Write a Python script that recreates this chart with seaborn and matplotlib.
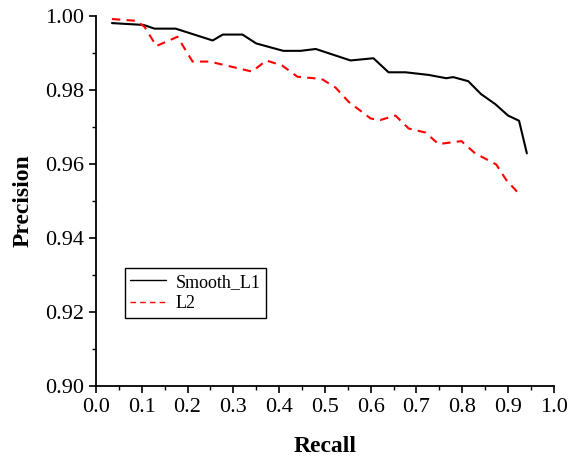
import matplotlib

matplotlib.use("Agg")

import matplotlib.pyplot as plt
import pandas as pd
import seaborn as sns
from matplotlib.ticker import MultipleLocator

smooth_recall = [0.035, 0.104, 0.128, 0.174, 0.255, 0.277, 0.320, 0.350, 0.409, 0.447,
                 0.480, 0.507, 0.556, 0.606, 0.639, 0.676, 0.726, 0.765, 0.780, 0.813,
                 0.841, 0.872, 0.900, 0.924, 0.935, 0.941]
smooth_prec = [0.9981, 0.9976, 0.9966, 0.9966, 0.9934, 0.9950, 0.9950, 0.9926, 0.9906, 0.9906,
               0.9911, 0.9900, 0.9880, 0.9886, 0.9848, 0.9848, 0.9841, 0.9832, 0.9835, 0.9824,
               0.9789, 0.9762, 0.9731, 0.9717, 0.9660, 0.9629]

l2_recall = [0.035, 0.089, 0.106, 0.132, 0.178, 0.211, 0.248, 0.341, 0.372, 0.407,
             0.440, 0.493, 0.523, 0.552, 0.600, 0.621, 0.654, 0.683, 0.720, 0.748,
             0.798, 0.828, 0.874, 0.896, 0.922]
l2_prec = [0.9992, 0.9987, 0.9971, 0.9919, 0.9944, 0.9877, 0.9877, 0.9850, 0.9880, 0.9866,
           0.9836, 0.9830, 0.9807, 0.9768, 0.9723, 0.9719, 0.9731, 0.9696, 0.9685, 0.9654,
           0.9662, 0.9629, 0.9599, 0.9557, 0.9522]

sns.set_style("ticks")
plt.rcParams["font.family"] = ["Liberation Serif", "DejaVu Serif"]
plt.rcParams["text.color"] = "black"
plt.rcParams["axes.labelcolor"] = "black"
plt.rcParams["xtick.color"] = "black"
plt.rcParams["ytick.color"] = "black"

smooth = pd.DataFrame({"Recall": smooth_recall, "Precision": smooth_prec})
l2 = pd.DataFrame({"Recall": l2_recall, "Precision": l2_prec})

fig = plt.figure(figsize=(5.71, 4.59), dpi=100)
ax = fig.add_axes([0.168, 0.159, 0.802, 0.806])

sns.lineplot(data=smooth, x="Recall", y="Precision", color="black", linewidth=1.5,
             label="Smooth_L1", sort=False, ax=ax)
sns.lineplot(data=l2, x="Recall", y="Precision", color="red", linewidth=1.5,
             label="L2", sort=False, ax=ax)
ax.lines[1].set_dashes([4, 3])

ax.set_xlim(0.0, 1.0)
ax.set_ylim(0.90, 1.00)
ax.xaxis.set_major_locator(MultipleLocator(0.1))
ax.xaxis.set_minor_locator(MultipleLocator(0.05))
ax.yaxis.set_major_locator(MultipleLocator(0.02))
ax.yaxis.set_minor_locator(MultipleLocator(0.01))
ax.set_xticklabels([f"{v:.1f}" for v in ax.get_xticks()])
ax.set_yticklabels([f"{v:.2f}" for v in ax.get_yticks()])
ax.tick_params(which="major", direction="out", length=5, width=1.2, labelsize=16,
               color="black", labelcolor="black")
ax.tick_params(which="minor", direction="out", length=3, width=1.0, color="black")

sns.despine(ax=ax)
for side in ["left", "bottom"]:
    ax.spines[side].set_linewidth(1.3)
    ax.spines[side].set_color("black")

ax.set_xlabel("Recall", fontsize=17, fontweight="bold", labelpad=14, color="black")
ax.set_ylabel("Precision", fontsize=17, fontweight="bold", labelpad=8, color="black")

leg = ax.legend(loc="upper left", bbox_to_anchor=(0.063, 0.318), fontsize=13,
                frameon=True, fancybox=False, framealpha=1, edgecolor="black",
                borderpad=0.3, labelspacing=0.25, handlelength=2.0, handletextpad=0.5,
                borderaxespad=0)
leg.get_frame().set_linewidth(1.0)
for line in leg.get_lines():
    line.set_linewidth(1.0)
for text in leg.get_texts():
    text.set_color("black")

fig.savefig("out.png", dpi=100)
plt.close(fig)
